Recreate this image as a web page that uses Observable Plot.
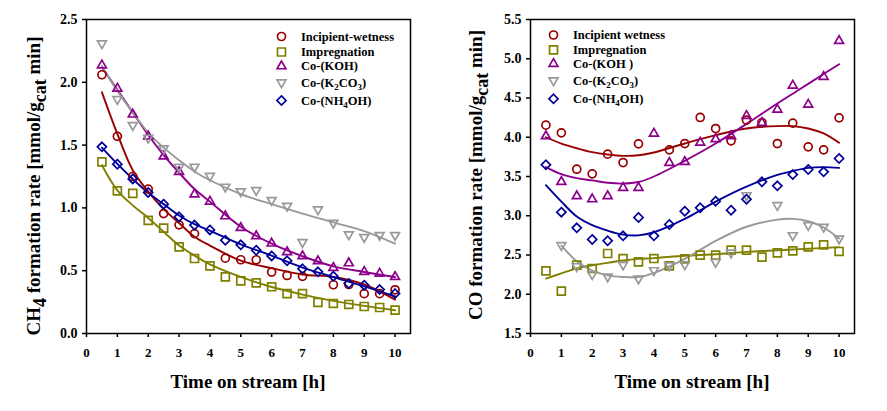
<!DOCTYPE html>
<html>
<head>
<meta charset="utf-8">
<script src="https://cdn.jsdelivr.net/npm/d3@7"></script>
<script src="https://cdn.jsdelivr.net/npm/@observablehq/plot@0.6"></script>
<style>
  body { margin: 0; background: #fff; }
  #wrap { display: flex; width: 887px; height: 411px; background: #fff; }
  svg { display: block; }
</style>
</head>
<body>
<div id="wrap"></div>
<script>
// ---------- data ----------
const hours = [0.5,1,1.5,2,2.5,3,3.5,4,4.5,5,5.5,6,6.5,7,7.5,8,8.5,9,9.5,10];
const xTicks = [0,1,2,3,4,5,6,7,8,9,10];
const ch4Ticks = [0,0.5,1,1.5,2,2.5];
const coTicks = [1.5,2,2.5,3,3.5,4,4.5,5,5.5];

// CH4 formation rate (left panel)
const ch4Incipient    = [2.06,1.57,1.25,1.15,0.955,0.865,0.795,null,0.60,0.587,0.587,0.489,0.462,0.455,null,0.388,0.39,0.317,0.317,0.348];
const ch4Impregnation = [1.367,1.136,1.115,0.90,0.839,0.69,0.597,0.539,0.451,0.419,0.403,0.372,0.318,0.318,0.247,0.239,0.231,0.215,0.207,0.186];
const ch4KOH          = [2.136,1.95,1.744,1.57,1.41,1.287,1.109,1.051,0.934,0.841,0.775,0.717,0.648,0.616,0.576,0.523,0.56,0.491,0.478,0.451];
const ch4K2CO3        = [2.309,1.866,1.659,1.558,1.473,1.327,1.327,1.255,1.168,1.131,1.141,1.062,1.016,0.727,0.987,0.881,0.788,0.767,0.783,0.783];
const ch4NH4OH        = [1.486,1.348,1.231,1.123,1.03,0.929,0.863,0.825,0.743,0.706,0.663,0.618,0.579,0.515,0.491,0.456,0.398,0.385,0.35,0.318];

// CH4 fitted curves
const ch4FitHours = [0.5,1,1.5,2,2.5,3,3.5,4,5,6,7,8,9,10];
const ch4FitIncipient    = [1.92,1.59,1.30,1.13,0.99,0.88,0.77,0.70,0.58,0.52,0.47,0.45,0.39,0.27];
const ch4FitImpregnation = [1.34,1.14,1.02,0.92,0.81,0.70,0.62,0.55,0.45,0.37,0.31,0.26,0.22,0.185];
const ch4FitKOH          = [2.12,1.94,1.76,1.58,1.42,1.28,1.15,1.05,0.85,0.715,0.615,0.535,0.49,0.45];
const ch4FitK2CO3        = [2.13,1.93,1.76,1.60,1.48,1.38,1.29,1.22,1.11,1.03,0.955,0.885,0.815,0.715];
const ch4FitNH4OH        = [1.48,1.35,1.23,1.12,1.03,0.94,0.87,0.82,0.71,0.62,0.525,0.45,0.375,0.295];

// CO formation rate (right panel)
const coIncipient    = [4.154,4.056,3.593,3.534,3.785,3.678,3.916,null,3.84,3.92,4.252,4.111,3.954,4.218,4.188,3.92,4.18,3.878,3.84,4.247];
const coImpregnation = [2.298,2.039,2.37,2.328,2.519,2.455,2.413,2.455,2.362,2.451,2.498,2.498,2.562,2.562,2.473,2.528,2.553,2.604,2.63,2.545];
const coKOH          = [4.014,3.432,3.25,3.211,3.25,3.356,3.356,4.048,3.674,3.687,3.933,3.976,4.014,4.273,4.184,4.354,4.659,4.417,4.77,5.228];
const coK2CO3        = [null,2.624,2.356,2.254,2.224,2.377,2.199,2.305,2.368,2.38,null,2.41,2.53,3.26,null,3.134,2.751,2.879,2.857,2.709];
const coNH4OH        = [3.649,3.046,2.846,2.698,2.681,2.744,2.978,2.744,2.889,3.058,3.101,3.186,3.071,3.211,3.432,3.381,3.525,3.589,3.559,3.729];

// CO fitted curves
const coFitHours = [0.5,1,1.5,2,2.5,3,3.5,4,5,6,7,8,8.5,9,9.5,10];
const coFitIncipient    = [4.00,3.92,3.86,3.81,3.78,3.763,3.77,3.806,3.92,4.027,4.112,4.142,4.142,4.112,4.048,3.929];
const coFitImpregnation = [2.20,2.265,2.33,2.37,2.40,2.43,2.45,2.46,2.49,2.51,2.54,2.56,2.57,2.58,2.59,2.60];
const coFitKOH          = [3.62,3.53,3.48,3.45,3.42,3.41,3.43,3.50,3.70,3.92,4.17,4.43,4.555,4.68,4.805,4.93];
const coFitK2CO3        = [null,2.62,2.42,2.30,2.24,2.22,2.22,2.27,2.45,2.68,2.86,2.95,2.96,2.93,2.85,2.71];
const coFitNH4OH        = [3.39,3.18,2.99,2.88,2.81,2.76,2.75,2.79,2.96,3.18,3.37,3.52,3.57,3.61,3.62,3.61];

const seriesColors = ["#990000","#808000","#8b008b","#999999","#000099"];
const legendLeft  = ["Incipient-wetness","Impregnation","Co-(KOH)","Co-(K_{2}CO_{3})","Co-(NH_{4}OH)"];
const legendRight = ["Incipient wetness","Impregnation","Co-(KOH )","Co-(K_{2}CO_{3})","Co-(NH_{4}OH)"];
const xTitle = "Time on stream [h]";
const yTitleLeft  = "CH_{4} formation rate [mmol/g_{cat} min]";
const yTitleRight = "CO formation rate [mmol/g_{cat} min]";

// ---------- symbols ----------
const sqrt3 = Math.sqrt(3);
const triangleDown = {
  draw(context, size) {
    const y = -Math.sqrt(size / (sqrt3 * 3));
    context.moveTo(0, -y * 2);
    context.lineTo(-sqrt3 * y, y);
    context.lineTo(sqrt3 * y, y);
    context.closePath();
  }
};
const seriesSymbols = ["circle","square","triangle",triangleDown,"diamond2"];
const seriesR = [4.0, 4.5, 3.3, 3.3, 4.1];

// ---------- helpers ----------
function rich(textSel, str, subSize, shift) {
  const parts = str.split(/_\{([^}]*)\}/);
  let down = false;
  parts.forEach((p, i) => {
    const isSub = i % 2 === 1;
    if (p === "") return;
    const t = textSel.append("tspan").text(p);
    if (isSub) {
      t.attr("font-size", subSize);
      if (!down) { t.attr("dy", shift); down = true; }
    } else if (down) {
      t.attr("dy", -shift); down = false;
    }
  });
}

function rows(xs, ys) {
  return xs.map((h, i) => ({h, v: ys[i]})).filter(d => d.v != null);
}

function panel(cfg) {
  const marks = [
    Plot.frame({stroke: "black", strokeWidth: 1.5}),
    Plot.axisX({ticks: xTicks, tickSize: 4, tickPadding: 10, strokeWidth: 1.5, fontSize: 13, label: null, tickFormat: d => String(d)}),
    Plot.axisY({ticks: cfg.yTicks, tickSize: 4, tickPadding: 5, strokeWidth: 1.5, fontSize: 14, label: null, tickFormat: d => d.toFixed(1)})
  ];
  cfg.fits.forEach((f, k) => {
    marks.push(Plot.line(rows(cfg.fitHours, f), {x: "h", y: "v", stroke: seriesColors[k], strokeWidth: 1.9, curve: "catmull-rom"}));
  });
  cfg.data.forEach((s, k) => {
    marks.push(Plot.dot(rows(hours, s), {x: "h", y: "v", stroke: seriesColors[k], fill: "none", strokeWidth: 1.7, symbol: seriesSymbols[k], r: seriesR[k]}));
  });
  // legend symbols
  cfg.legendDy.forEach((dy, k) => {
    marks.push(Plot.dot([0], {frameAnchor: "top-left", dx: cfg.legendDx, dy, stroke: seriesColors[k], fill: "none", strokeWidth: 1.7, symbol: seriesSymbols[k], r: seriesR[k]}));
  });

  const svg = Plot.plot({
    width: cfg.width, height: 411,
    marginLeft: cfg.marginLeft, marginRight: cfg.marginRight, marginTop: 19, marginBottom: 78,
    style: {fontFamily: "Liberation Serif", fontSize: "14px", fontWeight: "bold", color: "black", background: "white", overflow: "visible"},
    x: {domain: [0, 10.5]},
    y: {domain: cfg.yDomain},
    marks
  });

  const s = d3.select(svg);
  const frameCx = cfg.marginLeft + (cfg.width - cfg.marginLeft - cfg.marginRight) / 2;
  s.append("text")
    .attr("x", frameCx).attr("y", 388)
    .attr("text-anchor", "middle")
    .attr("font-family", "Liberation Serif").attr("font-weight", "bold").attr("font-size", 19)
    .attr("fill", "black")
    .text(xTitle);
  const yt = s.append("text")
    .attr("transform", `translate(${cfg.yTitleX},${cfg.yTitleY}) rotate(-90)`)
    .attr("text-anchor", "middle")
    .attr("font-family", "Liberation Serif").attr("font-weight", "bold").attr("font-size", 19)
    .attr("fill", "black");
  rich(yt, cfg.yTitle, 18, 6);

  cfg.legend.forEach((lab, k) => {
    const t = s.append("text")
      .attr("x", cfg.legendTextX).attr("y", 19 + cfg.legendDy[k] + 4.5)
      .attr("text-anchor", "start")
      .attr("font-family", "Liberation Serif").attr("font-weight", "bold").attr("font-size", 12.5)
      .attr("fill", "black");
    rich(t, lab, 9, 3);
  });
  return svg;
}

const left = panel({
  width: 440, marginLeft: 86, marginRight: 30,
  yDomain: [0, 2.5], yTicks: ch4Ticks,
  data: [ch4Incipient, ch4Impregnation, ch4KOH, ch4K2CO3, ch4NH4OH],
  fits: [ch4FitIncipient, ch4FitImpregnation, ch4FitKOH, ch4FitK2CO3, ch4FitNH4OH],
  fitHours: ch4FitHours,
  legend: legendLeft, legendDx: 195, legendDy: [17, 32.5, 46.7, 63, 81], legendTextX: 301,
  yTitle: yTitleLeft, yTitleX: 40, yTitleY: 186
});
const right = panel({
  width: 447, marginLeft: 90, marginRight: 33,
  yDomain: [1.5, 5.5], yTicks: coTicks,
  data: [coIncipient, coImpregnation, coKOH, coK2CO3, coNH4OH],
  fits: [coFitIncipient, coFitImpregnation, coFitKOH, coFitK2CO3, coFitNH4OH],
  fitHours: coFitHours,
  legend: legendRight, legendDx: 23, legendDy: [15.5, 30.3, 44.3, 61, 79.3], legendTextX: 133,
  yTitle: yTitleRight, yTitleX: 42, yTitleY: 175
});
document.getElementById("wrap").append(left, right);
</script>
</body>
</html>
